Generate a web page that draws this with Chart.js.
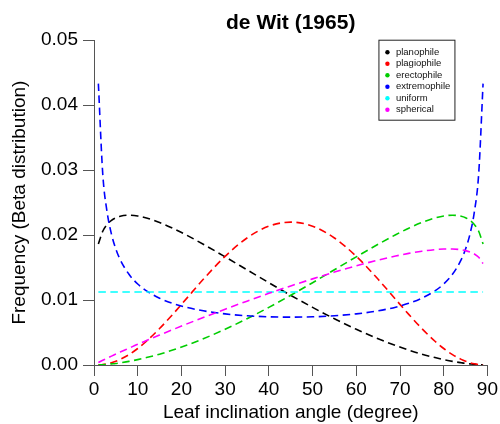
<!DOCTYPE html>
<html>
<head>
<meta charset="utf-8">
<script src="https://cdn.jsdelivr.net/npm/chart.js@4/dist/chart.umd.min.js"></script>
<style>
  html, body { margin: 0; padding: 0; background: #fff; }
  #wrap { width: 500px; height: 424px; }
</style>
</head>
<body>
<div id="wrap"><canvas id="c" width="500" height="424"></canvas></div>
<script>
// Leaf inclination angle (degree)
const angles = [1,2,3,4,5,6,8,10,12,15,18,21,25,30,35,40,45,50,55,60,65,69,72,75,78,80,82,84,85,86,87,88,89];

const planophile = [0.01864,0.02059,0.02163,0.02227,0.02267,0.02290,0.02306,0.02294,0.02263,0.02194,0.02106,0.02005,0.01859,0.01665,0.01466,0.01267,0.01073,0.00887,0.00712,0.00550,0.00404,0.00300,0.00230,0.00167,0.00114,0.00083,0.00056,0.00034,0.00024,0.00017,0.00010,0.00005,0.00001];

const plagiophile = [0.000015,0.000075,0.000188,0.000356,0.000583,0.000866,0.00160,0.00254,0.00366,0.00561,0.00779,0.01010,0.01319,0.01673,0.01955,0.02137,0.02200,0.02137,0.01955,0.01673,0.01319,0.01010,0.00779,0.00561,0.00366,0.00254,0.00160,0.000866,0.000583,0.000356,0.000188,0.000075,0.000015];

const erectophile = [0.00001,0.00005,0.00010,0.00017,0.00024,0.00034,0.00056,0.00083,0.00114,0.00167,0.00230,0.00300,0.00404,0.00550,0.00712,0.00887,0.01073,0.01267,0.01466,0.01665,0.01859,0.02005,0.02106,0.02194,0.02263,0.02294,0.02306,0.02290,0.02267,0.02227,0.02163,0.02059,0.01864];

const extremophile = [0.04331,0.02943,0.02353,0.02013,0.01785,0.01621,0.01396,0.01247,0.01141,0.01028,0.00949,0.00890,0.00834,0.00787,0.00758,0.00742,0.00737,0.00742,0.00758,0.00787,0.00834,0.00890,0.00949,0.01028,0.01141,0.01247,0.01396,0.01621,0.01785,0.02013,0.02353,0.02943,0.04331];

const uniformAngles = [1, 89];
const uniform = [0.01124, 0.01124];

const spherical = [0.00038,0.00072,0.00105,0.00137,0.00168,0.00199,0.00259,0.00319,0.00376,0.00461,0.00544,0.00626,0.00731,0.00859,0.00983,0.01103,0.01217,0.01326,0.01430,0.01527,0.01615,0.01677,0.01718,0.01752,0.01776,0.01785,0.01786,0.01774,0.01761,0.01741,0.01709,0.01658,0.01562];

const seriesNames = ['planophile','plagiophile','erectophile','extremophile','uniform','spherical'];
const seriesColors = ['#000000','#FF0000','#00CD00','#0000FF','#00FFFF','#FF00FF'];

const xTicks = [0,10,20,30,40,50,60,70,80,90];
const yTicks = [0.00,0.01,0.02,0.03,0.04,0.05];

const FONT = '"Liberation Sans", Arial, Helvetica, sans-serif';
const AXIS = '#555555';

function pts(xs, ys) { return xs.map((x, i) => ({ x: x, y: ys[i] })); }

const seriesData = [
  pts(angles, planophile),
  pts(angles, plagiophile),
  pts(angles, erectophile),
  pts(angles, extremophile),
  pts(uniformAngles, uniform),
  pts(angles, spherical)
];

const datasets = seriesNames.map((name, i) => ({
  label: name,
  data: seriesData[i],
  borderColor: seriesColors[i],
  backgroundColor: seriesColors[i],
  borderWidth: 1.6,
  borderDash: [7.5, 4.5],
  pointRadius: 0,
  fill: false,
  cubicInterpolationMode: 'monotone',
  order: seriesNames.length - i
}));

const legendBox = {
  id: 'legendBox',
  afterDraw(chart) {
    const ctx = chart.ctx;
    const ca = chart.chartArea;
    const left = ca.right - 108.5, top = ca.top;
    ctx.save();
    ctx.strokeStyle = '#222';
    ctx.lineWidth = 1;
    ctx.strokeRect(left, top, 76, 80);
    ctx.font = '9.5px ' + FONT;
    ctx.textBaseline = 'middle';
    ctx.textAlign = 'left';
    chart.data.datasets.forEach((d, i) => {
      const y = top + 12 + i * 11.5;
      ctx.fillStyle = d.borderColor;
      ctx.beginPath();
      ctx.arc(left + 8.5, y, 2.2, 0, Math.PI * 2);
      ctx.fill();
      ctx.fillStyle = '#111';
      ctx.fillText(d.label, left + 17, y);
    });
    ctx.restore();
  }
};

new Chart(document.getElementById('c'), {
  type: 'line',
  data: { datasets: datasets },
  plugins: [legendBox],
  options: {
    responsive: false,
    animation: false,
    devicePixelRatio: 1,
    layout: { padding: { left: 0, right: 11, top: 0, bottom: 0 } },
    plugins: {
      legend: { display: false },
      tooltip: { enabled: false },
      title: {
        display: true,
        text: 'de Wit (1965)',
        fullSize: false,
        color: '#000',
        font: { family: FONT, size: 21, weight: 'bold' },
        padding: { top: 11, bottom: 4 }
      }
    },
    scales: {
      x: {
        type: 'linear',
        min: 0, max: 90,
        afterFit(scale) { scale.height = 59; },
        afterBuildTicks(scale) { scale.ticks = xTicks.map(v => ({ value: v })); },
        border: { display: true, color: AXIS, width: 1 },
        grid: { drawOnChartArea: false, drawTicks: true, tickLength: 11, color: AXIS, lineWidth: 1 },
        ticks: { color: '#000', font: { family: FONT, size: 19 }, padding: 2, maxRotation: 0, autoSkip: false },
        title: { display: true, text: 'Leaf inclination angle (degree)', color: '#000', font: { family: FONT, size: 19 }, padding: { top: 0, bottom: 0 } }
      },
      y: {
        type: 'linear',
        min: 0, max: 0.05,
        afterFit(scale) { scale.width = 94; },
        afterBuildTicks(scale) { scale.ticks = yTicks.map(v => ({ value: v })); },
        border: { display: true, color: AXIS, width: 1 },
        grid: { drawOnChartArea: false, drawTicks: true, tickLength: 11, color: AXIS, lineWidth: 1 },
        ticks: { color: '#000', font: { family: FONT, size: 19 }, padding: 5, callback: v => v.toFixed(2), autoSkip: false },
        title: { display: true, text: 'Frequency (Beta distribution)', color: '#000', font: { family: FONT, size: 19 }, padding: { top: 8, bottom: 0 } }
      }
    }
  }
});
</script>
</body>
</html>
